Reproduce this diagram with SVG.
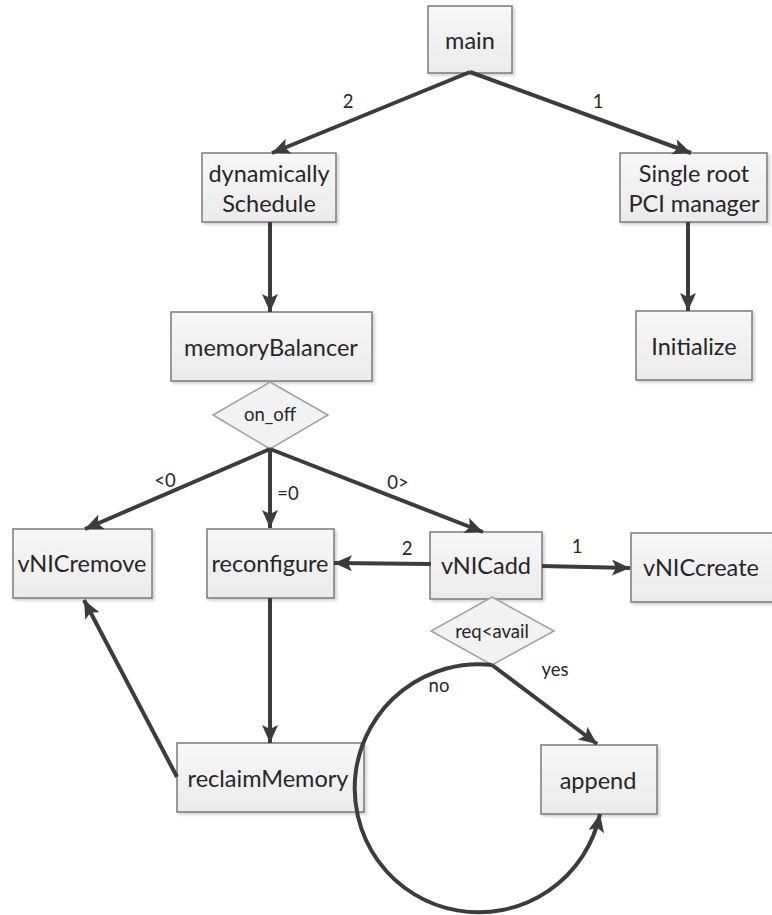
<svg xmlns="http://www.w3.org/2000/svg" width="772" height="915" viewBox="0 0 772 915">
  <defs>
    <linearGradient id="boxFill" x1="0" y1="0" x2="0" y2="1">
      <stop offset="0" stop-color="#f7f7f7"/>
      <stop offset="1" stop-color="#ebebeb"/>
    </linearGradient>
    <filter id="shadow" x="-10%" y="-10%" width="130%" height="130%">
      <feDropShadow dx="2" dy="2" stdDeviation="1.5" flood-color="#000" flood-opacity="0.18"/>
    </filter>
    <marker id="arrow" markerUnits="userSpaceOnUse" markerWidth="20" markerHeight="18" refX="18" refY="8" orient="auto">
      <path d="M0,0 L18,8 L0,16 L4,8 Z" fill="#3c3c3c"/>
    </marker>
  </defs>
  <style>
    .box { fill: url(#boxFill); stroke: #7a7a7a; stroke-width: 1.5; filter: url(#shadow); }
    .dia { fill: #f2f2f2; stroke: #a0a0a0; stroke-width: 1.5; }
    .lbl { font-family: Lato, "Liberation Sans", sans-serif; font-size: 23.5px; fill: #262626; text-anchor: middle; dominant-baseline: central; }
    .edge { font-family: Lato, "Liberation Sans", sans-serif; font-size: 18.5px; fill: #262626; text-anchor: middle; dominant-baseline: central; }
    .conn { fill: none; stroke: #3c3c3c; stroke-width: 4; marker-end: url(#arrow); }
  </style>
  <rect width="772" height="915" fill="#ffffff"/>

  <!-- nodes -->
  <g id="main"><rect class="box" x="428" y="6" width="84" height="67"/><text class="lbl" x="470" y="40">main</text></g>
  <g id="dynamicallySchedule"><rect class="box" x="202" y="153" width="134" height="69"/><text class="lbl" x="269" y="173">dynamically</text><text class="lbl" x="269" y="203">Schedule</text></g>
  <g id="singleRoot"><rect class="box" x="620" y="153" width="147" height="69"/><text class="lbl" x="694" y="173">Single root</text><text class="lbl" x="694" y="203">PCI manager</text></g>
  <g id="memoryBalancer"><rect class="box" x="171" y="312" width="201" height="69"/><text class="lbl" x="271" y="347">memoryBalancer</text></g>
  <g id="initialize"><rect class="box" x="636" y="311" width="116" height="69"/><text class="lbl" x="694" y="346">Initialize</text></g>
  <g id="onOff"><polygon class="dia" points="270,382 328,415 270,449 213,415"/><text class="edge" x="270" y="414">on_off</text></g>
  <g id="vNICremove"><rect class="box" x="13" y="529" width="139" height="69"/><text class="lbl" x="82" y="563">vNICremove</text></g>
  <g id="reconfigure"><rect class="box" x="207" y="529" width="127" height="69"/><text class="lbl" x="270" y="563">reconfigure</text></g>
  <g id="vNICadd"><rect class="box" x="430" y="532" width="112" height="67"/><text class="lbl" x="486" y="565">vNICadd</text></g>
  <g id="vNICcreate"><rect class="box" x="631" y="533" width="150" height="69"/><text class="lbl" x="701" y="567">vNICcreate</text></g>
  <g id="reqAvail"><polygon class="dia" points="492,597 554,631 492,665 431,631"/><text class="edge" x="492" y="631">req&lt;avail</text></g>
  <g id="reclaimMemory"><rect class="box" x="177" y="743" width="187" height="69"/><text class="lbl" x="268" y="778">reclaimMemory</text></g>
  <g id="append"><rect class="box" x="541" y="745" width="116" height="69"/><text class="lbl" x="598" y="780">append</text></g>

  <!-- connectors -->
  <g id="connectors">
    <line class="conn" x1="470" y1="72" x2="272" y2="153"/>
    <line class="conn" x1="470" y1="72" x2="691" y2="153"/>
    <line class="conn" x1="270" y1="222" x2="270" y2="312"/>
    <line class="conn" x1="688" y1="222" x2="688" y2="311"/>
    <line class="conn" x1="270" y1="449" x2="85" y2="529"/>
    <line class="conn" x1="270" y1="449" x2="270" y2="528"/>
    <line class="conn" x1="270" y1="449" x2="483" y2="532"/>
    <line class="conn" x1="431" y1="564" x2="334" y2="563"/>
    <line class="conn" x1="542" y1="566" x2="630" y2="568"/>
    <line class="conn" x1="270" y1="598" x2="270" y2="743"/>
    <line class="conn" x1="177" y1="777" x2="84" y2="600"/>
    <line class="conn" x1="492" y1="665" x2="597" y2="744"/>
    <path class="conn" d="M492,665 A124,124 0 1 0 600,814"/>
    <text class="edge" x="348" y="101">2</text>
    <text class="edge" x="598" y="101">1</text>
    <text class="edge" x="165" y="480">&lt;0</text>
    <text class="edge" x="288" y="493">=0</text>
    <text class="edge" x="398" y="482">0&gt;</text>
    <text class="edge" x="407" y="548">2</text>
    <text class="edge" x="577" y="546">1</text>
    <text class="edge" x="555" y="669">yes</text>
    <text class="edge" x="439" y="685">no</text>
  </g>
</svg>
